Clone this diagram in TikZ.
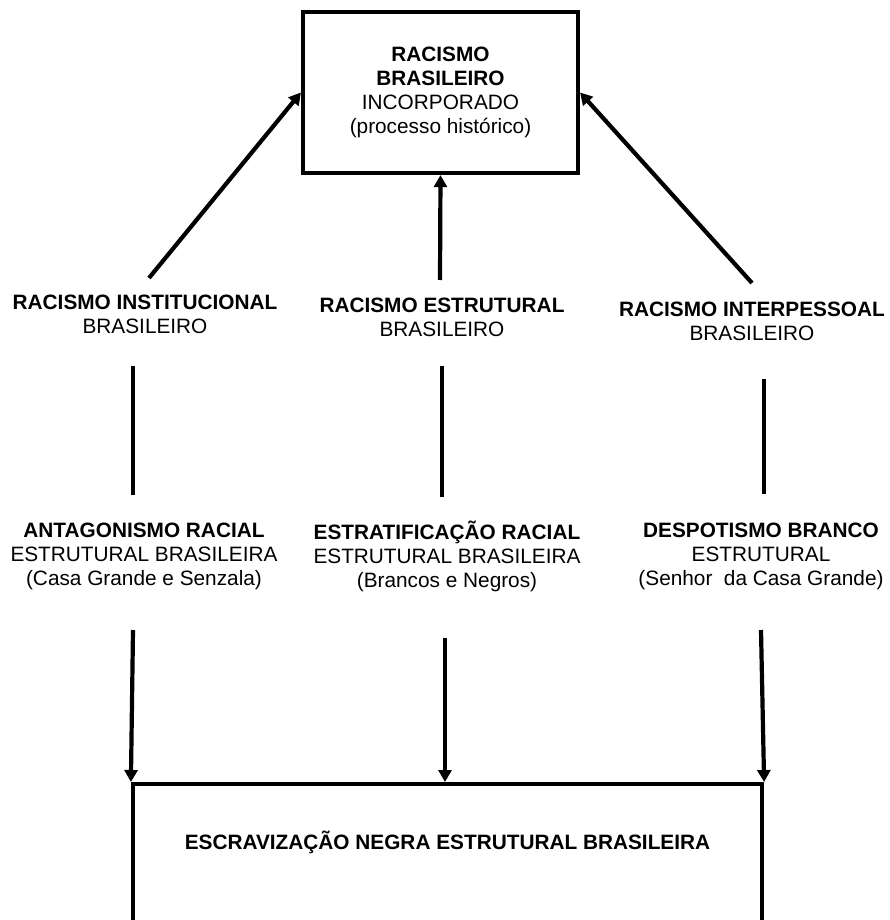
\documentclass[tikz,border=0pt]{standalone}
\usepackage{fontspec}
\setmainfont{Liberation Sans}
\usetikzlibrary{arrows.meta}
\newcommand{\grdcxa}{145}
\newcommand{\grdcxb}{442}
\newcommand{\grdcxc}{752}
\newcommand{\grddxa}{144}
\newcommand{\grddxb}{447}
\newcommand{\grddxc}{761}
\newcommand{\grdrya}{314}
\newcommand{\grdryb}{317}
\newcommand{\grdryc}{321}
\newcommand{\grdsy}{556}
\newcommand{\grdlw}{4.2pt}
\tikzset{
  lbl/.style={align=center,font=\fontsize{20.8}{24}\selectfont},
  bx/.style={draw,line width=\grdlw},
  ln/.style={line width=\grdlw},
  arr/.style={line width=\grdlw,-{Triangle[length=12pt,width=13pt]}}
}

\begin{document}
\begin{tikzpicture}[x=1pt,y=-1pt]
    \useasboundingbox (0,0) rectangle (890,920);

    \node[bx,lbl,minimum width=275,minimum height=161] (racbr) at (440.5,92.5)
      {\textbf{RACISMO}\\\textbf{BRASILEIRO}\\INCORPORADO\\(processo histórico)};

    \node[lbl] (inst) at (\grdcxa,\grdrya)
      {\textbf{RACISMO INSTITUCIONAL}\\BRASILEIRO};
    \node[lbl] (estr) at (\grdcxb,\grdryb)
      {\textbf{RACISMO ESTRUTURAL}\\BRASILEIRO};
    \node[lbl] (inter) at (\grdcxc,\grdryc)
      {\textbf{RACISMO INTERPESSOAL}\\BRASILEIRO};

    \node[lbl] (antag) at (\grddxa,\grdsy)
      {\textbf{ANTAGONISMO RACIAL}\\ESTRUTURAL BRASILEIRA\\(Casa Grande e Senzala)};
    \node[lbl] (strat) at (\grddxb,\grdsy)
      {\textbf{ESTRATIFICAÇÃO RACIAL}\\ESTRUTURAL BRASILEIRA\\(Brancos e Negros)};
    \node[lbl] (despot) at (\grddxc,\grdsy)
      {\textbf{DESPOTISMO BRANCO}\\ESTRUTURAL\\(Senhor\ \ da Casa Grande)};

    \node[bx,minimum width=629,minimum height=200,anchor=north] (escrav)
      at (447.5,782) {};
    \node[lbl] (escravtxt) at (447.5,842)
      {\textbf{ESCRAVIZAÇÃO NEGRA ESTRUTURAL BRASILEIRA}};

    \coordinate (instup) at (149,278);
    \coordinate (estrup) at (440,280);
    \coordinate (interup) at (752,283);
    \draw[arr] (instup) -- (racbr.west);
    \draw[arr] (estrup) -- (racbr.south);
    \draw[arr] (interup) -- (racbr.east);

    \coordinate (instdn) at (133,366);
    \coordinate (antagup) at (133,495);
    \coordinate (estrdn) at (442,366);
    \coordinate (stratup) at (442,497);
    \coordinate (interdn) at (764,379);
    \coordinate (despotup) at (764,494);
    \draw[ln] (instdn) -- (antagup);
    \draw[ln] (estrdn) -- (stratup);
    \draw[ln] (interdn) -- (despotup);

    \coordinate (antagdn) at (133,630);
    \coordinate (stratdn) at (445,638);
    \coordinate (despotdn) at (761,630);
    \draw[arr] (antagdn) -- (escrav.north west);
    \draw[arr] (stratdn) -- (stratdn |- escrav.north);
    \draw[arr] (despotdn) -- (escrav.north east);
\end{tikzpicture}
\end{document}
